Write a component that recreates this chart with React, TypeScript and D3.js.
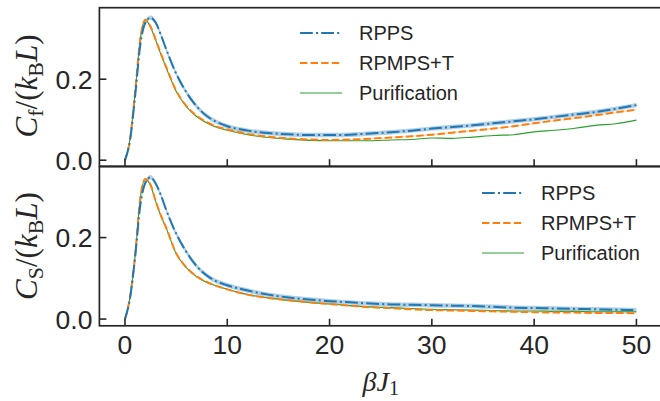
import React from "react";
import * as d3 from "d3";

// ---- data ----
const betaJ = [0, 0.5, 1, 1.5, 2, 2.5, 3, 3.5, 4, 5, 6, 7, 8, 9, 10, 12, 14, 16, 18, 20, 22, 24, 26, 28, 30, 32, 34, 36, 38, 40, 42, 44, 46, 48, 50];

// Top panel: C_f
const cfRPPS = [0, 0.05, 0.16, 0.285, 0.34, 0.352, 0.34, 0.31, 0.276, 0.214, 0.168, 0.133, 0.109, 0.094, 0.084, 0.073, 0.067, 0.064, 0.062, 0.062, 0.063, 0.066, 0.069, 0.073, 0.078, 0.082, 0.086, 0.091, 0.096, 0.101, 0.107, 0.113, 0.119, 0.127, 0.136];
const cfRPMPS = [0, 0.053, 0.17, 0.3, 0.347, 0.33, 0.298, 0.264, 0.232, 0.172, 0.134, 0.11, 0.094, 0.083, 0.076, 0.065, 0.058, 0.054, 0.051, 0.05, 0.051, 0.053, 0.056, 0.059, 0.063, 0.068, 0.073, 0.078, 0.084, 0.091, 0.098, 0.104, 0.111, 0.118, 0.125];
const cfPurif = [0, 0.053, 0.17, 0.3, 0.346, 0.328, 0.296, 0.262, 0.23, 0.17, 0.132, 0.108, 0.092, 0.081, 0.074, 0.063, 0.056, 0.052, 0.049, 0.048, 0.048, 0.048, 0.05, 0.051, 0.055, 0.054, 0.057, 0.061, 0.063, 0.07, 0.074, 0.079, 0.086, 0.09, 0.099];

// Bottom panel: C_S
const csRPPS = [0, 0.052, 0.155, 0.28, 0.335, 0.348, 0.333, 0.305, 0.27, 0.21, 0.165, 0.13, 0.107, 0.092, 0.083, 0.07, 0.06, 0.053, 0.048, 0.044, 0.041, 0.038, 0.036, 0.035, 0.034, 0.033, 0.032, 0.03, 0.028, 0.027, 0.026, 0.025, 0.024, 0.023, 0.022];
const csRPMPS = [0, 0.055, 0.157, 0.297, 0.344, 0.33, 0.29, 0.255, 0.226, 0.162, 0.127, 0.105, 0.091, 0.081, 0.073, 0.06, 0.052, 0.046, 0.041, 0.037, 0.033, 0.029, 0.027, 0.024, 0.022, 0.021, 0.02, 0.019, 0.018, 0.017, 0.016, 0.016, 0.015, 0.015, 0.014];
const csPurif = [0, 0.055, 0.157, 0.297, 0.343, 0.328, 0.289, 0.254, 0.225, 0.161, 0.126, 0.104, 0.09, 0.081, 0.073, 0.06, 0.052, 0.046, 0.041, 0.037, 0.033, 0.03, 0.028, 0.026, 0.024, 0.023, 0.022, 0.021, 0.02, 0.02, 0.019, 0.019, 0.018, 0.018, 0.018];

// uncertainty half-widths of the bands
const errRPPS = 0.0055;
const errRPMPS = 0.002;

const seriesNames = ["RPPS", "RPMPS+T", "Purification"];
const xTicks = [0, 10, 20, 30, 40, 50];
const yTicks = [0.0, 0.2];
const yTickLabels = ["0.0", "0.2"];

const BLUE = "#1f77b4";
const ORANGE = "#ff7f0e";
const GREEN = "#2ca02c";
const INK = "#262626";

const W = 660;
const H = 401;
const LEFT = 99.4;
const RIGHT = 662;
const SANS = "Liberation Sans, Arial, sans-serif";
const SERIF = "Liberation Serif, Times New Roman, serif";

const x = d3.scaleLinear().domain([-2.5, 52.5]).range([LEFT, RIGHT]);

type PanelProps = {
  top: number;
  bottom: number;
  yDomain: [number, number];
  rpps: number[];
  rpmps: number[];
  purif: number[];
  legendX: number;
  legendY: number;
  clipId: string;
};

function Panel({ top, bottom, yDomain, rpps, rpmps, purif, legendX, legendY, clipId }: PanelProps) {
  const y = d3.scaleLinear().domain(yDomain).range([bottom, top]);
  const pts = (arr: number[]) => betaJ.map((b, i) => [b, arr[i]] as [number, number]);
  const line = d3
    .line<[number, number]>()
    .x((d) => x(d[0]))
    .y((d) => y(d[1]))
    .curve(d3.curveMonotoneX);
  const band = (arr: number[], e: number) =>
    d3
      .area<[number, number]>()
      .x((d) => x(d[0]))
      .y0((d) => y(Math.max(0, d[1] - e)))
      .y1((d) => y(d[1] + e))
      .curve(d3.curveMonotoneX)(pts(arr)) || "";

  const styles = [
    { color: BLUE, dash: "12.8,3.2,2,3.2", width: 2 },
    { color: ORANGE, dash: "7.4,3.2", width: 2 },
    { color: GREEN, dash: "", width: 1.1 },
  ];

  return (
    <g>
      <defs>
        <clipPath id={clipId}>
          <rect x={LEFT} y={top} width={RIGHT - LEFT} height={bottom - top} />
        </clipPath>
      </defs>
      <g clipPath={`url(#${clipId})`}>
        <path d={band(rpps, errRPPS)} fill={BLUE} opacity={0.35} />
        <path d={band(rpmps, errRPMPS)} fill={ORANGE} opacity={0.25} />
        <path d={line(pts(purif)) || ""} fill="none" stroke={GREEN} strokeWidth={1.1} />
        <path d={line(pts(rpmps)) || ""} fill="none" stroke={ORANGE} strokeWidth={2} strokeDasharray="7.4,3.2" />
        <path d={line(pts(rpps)) || ""} fill="none" stroke={BLUE} strokeWidth={2} strokeDasharray="12.8,3.2,2,3.2" />
      </g>
      {xTicks.map((t) => (
        <line key={"xt" + t} x1={x(t)} x2={x(t)} y1={bottom} y2={bottom - 7} stroke={INK} strokeWidth={1.6} />
      ))}
      {yTicks.map((t, i) => (
        <g key={"yt" + t}>
          <line x1={LEFT} x2={LEFT + 7} y1={y(t)} y2={y(t)} stroke={INK} strokeWidth={1.6} />
          <text x={LEFT - 7} y={y(t) + 9.5} textAnchor="end" fontSize={26.5} fill={INK} fontFamily={SANS}>
            {yTickLabels[i]}
          </text>
        </g>
      ))}
      <rect x={LEFT} y={top} width={RIGHT - LEFT} height={bottom - top} fill="none" stroke={INK} strokeWidth={1.7} />
      {seriesNames.map((n, i) => (
        <g key={n}>
          <line
            x1={legendX}
            x2={legendX + 42}
            y1={legendY + i * 30}
            y2={legendY + i * 30}
            stroke={styles[i].color}
            strokeWidth={styles[i].width}
            strokeDasharray={styles[i].dash}
          />
          <text x={legendX + 59} y={legendY + i * 30 + 7} fontSize={20} fill={INK} fontFamily={SANS}>
            {n}
          </text>
        </g>
      ))}
    </g>
  );
}

function YLabel({ cx, cy, sub }: { cx: number; cy: number; sub: string }) {
  return (
    <text
      transform={`translate(${cx},${cy}) rotate(-90)`}
      textAnchor="middle"
      fontSize={31}
      fill={INK}
      fontFamily={SERIF}
    >
      <tspan fontStyle="italic">C</tspan>
      <tspan fontSize={22} dy={6}>{sub}</tspan>
      <tspan dy={-6}>/(</tspan>
      <tspan fontStyle="italic">k</tspan>
      <tspan fontSize={22} dy={6}>B</tspan>
      <tspan fontStyle="italic" dy={-6}>L</tspan>
      <tspan>)</tspan>
    </text>
  );
}

export default function App() {
  return (
    <svg width={W} height={H} style={{ position: "absolute", left: 0, top: 0, background: "#fff" }}>
      <rect width={W} height={H} fill="#fff" />
      <Panel
        top={7.7}
        bottom={166.2}
        yDomain={[-0.0148, 0.3765]}
        rpps={cfRPPS}
        rpmps={cfRPMPS}
        purif={cfPurif}
        legendX={300}
        legendY={33}
        clipId="clipTop"
      />
      <Panel
        top={166.7}
        bottom={325.8}
        yDomain={[-0.0165, 0.374]}
        rpps={csRPPS}
        rpmps={csRPMPS}
        purif={csPurif}
        legendX={482}
        legendY={193}
        clipId="clipBottom"
      />
      {xTicks.map((t) => (
        <text key={t} x={x(t)} y={354} textAnchor="middle" fontSize={26.5} fill={INK} fontFamily={SANS}>
          {t}
        </text>
      ))}
      <YLabel cx={37} cy={86} sub="f" />
      <YLabel cx={37} cy={246} sub="S" />
      <text x={(LEFT + RIGHT) / 2} y={391} textAnchor="middle" fontSize={28} fill={INK} fontFamily={SERIF} fontStyle="italic">
        βJ<tspan fontStyle="normal" fontSize={20} dy={4}>1</tspan>
      </text>
    </svg>
  );
}
